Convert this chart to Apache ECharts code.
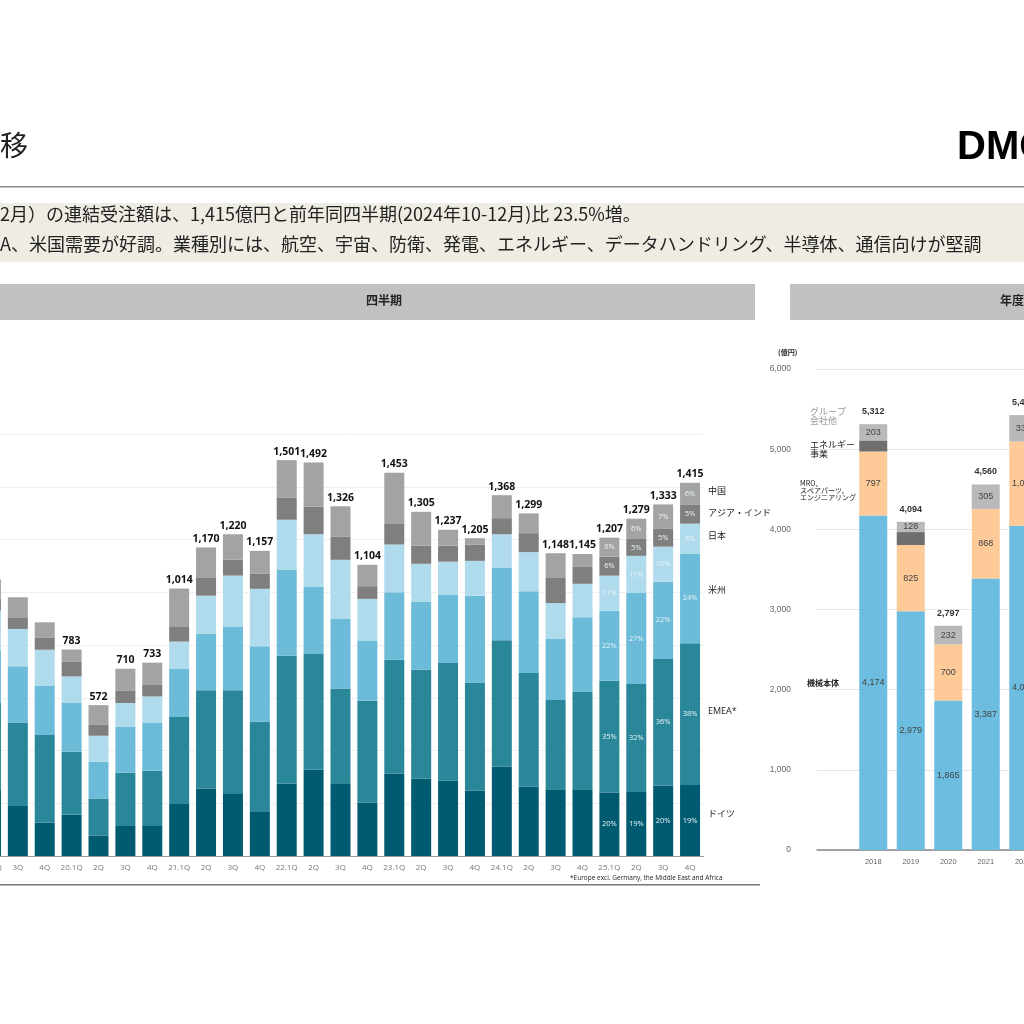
<!DOCTYPE html>
<html><head><meta charset="utf-8">
<script src="https://cdn.jsdelivr.net/npm/echarts@6/dist/echarts.min.js"></script>
<style>body{margin:0;background:#fff}#c{width:1024px;height:1024px}</style>
</head><body><div id="c"></div>
<script>
// quarterly orders (億円), by region
var quarters = ['19.2Q','3Q','4Q','20.1Q','2Q','3Q','4Q','21.1Q','2Q','3Q','4Q','22.1Q','2Q','3Q','4Q','23.1Q','2Q','3Q','4Q','24.1Q','2Q','3Q','4Q','25.1Q','2Q','3Q','4Q'];
var germany = [250,190,127,156,78,114,114,200,256,235,170,275,327,276,203,313,294,285,247,339,263,253,253,241,243,267,269];
var emea    = [330,316,332,239,140,202,209,327,372,393,339,484,439,359,386,431,412,447,411,479,431,338,371,423,409,480,538];
var americas= [200,213,187,185,139,175,181,182,214,242,286,327,256,264,226,256,259,259,329,274,310,234,281,266,345,293,340];
var japan   = [150,142,136,101,99,89,101,104,145,193,218,189,198,224,160,181,143,125,132,128,148,134,127,133,141,133,113];
var asia    = [45,44,47,57,43,48,46,58,67,61,57,83,105,87,48,78,69,61,61,61,72,95,64,72,64,67,71];
var china   = [73,76,57,45,73,82,82,143,116,96,87,143,167,116,81,194,128,60,25,87,75,94,49,72,77,93,84];
var totals  = [null,null,null,783,572,710,733,1014,1170,1220,1157,1501,1492,1326,1104,1453,1305,1237,1205,1368,1299,1148,1145,1207,1279,1333,1415];
// share labels on the latest four quarters
var pctGermany = [20,19,20,19], pctEmea = [35,32,36,38], pctAmericas = [22,27,22,24];
var pctJapan = [11,11,10,8], pctAsia = [6,5,5,5], pctChina = [6,6,7,6];

// annual orders
var years = ['','2018','2019','2020','2021','2022'];
var machines = [null,4174,2979,1865,3387,4045];
var mro      = [null,797,825,700,868,1050];
var energy   = [null,138,162,0,0,0];
var group    = [null,203,128,232,305,330];
var yearTotals = [null,5312,4094,2797,4560,5425];

var qColors = ['#005b70','#2a8699','#6cbcd9','#b0dbed','#7f7f7f','#a3a3a3'];
var qNames = ['ドイツ','EMEA*','米州','日本','アジア・インド','中国'];
var qData = [germany,emea,americas,japan,asia,china];
var qPct = [pctGermany,pctEmea,pctAmericas,pctJapan,pctAsia,pctChina];
var n = quarters.length;

var series = [];
qData.forEach(function (d, k) {
  series.push({
    name: qNames[k], type: 'bar', stack: 'q', xAxisIndex: 0, yAxisIndex: 0,
    barWidth: 20, itemStyle: {color: qColors[k]}, data: d,
    label: {show: true, color: '#e8f4f8', fontSize: 7.5, fontFamily: 'Open Sans',
      formatter: function (p) { var i = p.dataIndex - (n - 4); return i >= 0 ? qPct[k][i] + '%' : ''; }}
  });
});
series.push({
  type: 'bar', stack: 'q', xAxisIndex: 0, yAxisIndex: 0, barWidth: 20,
  data: totals.map(function () { return 0; }),
  label: {show: true, position: 'top', distance: 3, color: '#111', fontWeight: 'bold', fontSize: 10.5, fontFamily: 'Open Sans',
    formatter: function (p) { var t = totals[p.dataIndex]; return t ? t.toLocaleString('en-US') : ''; }}
});
var yColors = ['#6cbde0','#fdca98','#6f6f6f','#b9b9b9'];
[machines, mro, energy, group].forEach(function (d, k) {
  series.push({
    type: 'bar', stack: 'y', xAxisIndex: 1, yAxisIndex: 1, barWidth: 28,
    itemStyle: {color: yColors[k]}, data: d,
    label: {show: k !== 2, color: '#444', fontSize: 9, fontFamily: 'Arial',
      formatter: function (p) { return p.value ? p.value.toLocaleString('en-US') : ''; }}
  });
});
series.push({
  type: 'bar', stack: 'y', xAxisIndex: 1, yAxisIndex: 1, barWidth: 28,
  data: yearTotals.map(function () { return 0; }),
  label: {show: true, position: 'top', distance: 8, color: '#333', fontWeight: 'bold', fontSize: 9, fontFamily: 'Arial',
    formatter: function (p) { var t = yearTotals[p.dataIndex]; return t ? t.toLocaleString('en-US') : ''; }}
});

var t = function (x, y, s, st) {
  return {type: 'text', left: x, top: y, style: Object.assign({text: s, fill: '#222', font: '9px "Noto Sans CJK JP"'}, st || {})};
};
var chart = echarts.init(document.getElementById('c'));
chart.setOption({
  animation: false,
  grid: [
    {left: -22.5, right: 320.5, top: 434, bottom: 168, outerBoundsMode: 'none', containLabel: false},
    {left: 817, right: -18, top: 369, bottom: 174, outerBoundsMode: 'none', containLabel: false}
  ],
  xAxis: [
    {gridIndex: 0, type: 'category', data: quarters,
     axisLine: {lineStyle: {color: '#999'}}, axisTick: {show: false},
     axisLabel: {interval: 0, color: '#777', fontSize: 8, margin: 8, fontFamily: 'Open Sans'}},
    {gridIndex: 1, type: 'category', data: years,
     axisLine: {lineStyle: {color: '#888', width: 1.5}}, axisTick: {show: false},
     axisLabel: {interval: 0, color: '#666', fontSize: 7.5, margin: 8, fontFamily: 'Arial'}}
  ],
  yAxis: [
    {gridIndex: 0, type: 'value', min: 0, max: 1600, interval: 200,
     axisLabel: {show: false}, splitLine: {lineStyle: {color: '#f0f0f0'}}},
    {gridIndex: 1, type: 'value', min: 0, max: 6000, interval: 1000,
     axisLabel: {color: '#666', fontSize: 8.5, margin: 26, fontFamily: 'Arial'},
     splitLine: {lineStyle: {color: '#e6e6e6'}}}
  ],
  series: series,
  graphic: [
    t(0, 131, '移', {font: '28px "Noto Sans CJK JP"'}),
    t(957, 128, 'DMG', {font: '900 40px "Liberation Sans"', fill: '#000'}),
    {type: 'rect', shape: {x: 0, y: 186, width: 1024, height: 1.5}, style: {fill: '#888'}},
    {type: 'rect', shape: {x: 0, y: 203, width: 1024, height: 59}, style: {fill: '#efece3'}},
    t(0, 205, '2月）の連結受注額は、1,415億円と前年同四半期(2024年10-12月)比 23.5%増。', {font: '18px "Noto Sans CJK JP"'}),
    t(0, 235, 'A、米国需要が好調。業種別には、航空、宇宙、防衛、発電、エネルギー、データハンドリング、半導体、通信向けが堅調', {font: '18px "Noto Sans CJK JP"'}),
    {type: 'rect', shape: {x: 0, y: 284, width: 755, height: 36}, style: {fill: '#c1c1c1'}},
    {type: 'rect', shape: {x: 790, y: 284, width: 240, height: 36}, style: {fill: '#c1c1c1'}},
    t(366, 294, '四半期', {font: 'bold 12px "Noto Sans CJK JP"'}),
    t(1000, 294, '年度', {font: 'bold 12px "Noto Sans CJK JP"'}),
    t(708, 486, '中国'), t(708, 508, 'アジア・インド'), t(708, 531, '日本'),
    t(708, 585, '米州'), t(708, 707, 'EMEA*', {font: '9px "Open Sans"'}), t(708, 809, 'ドイツ'),
    t(570, 875, '*Europe excl. Germany, the Middle East and Africa', {font: '6.5px "Open Sans"'}),
    {type: 'rect', shape: {x: 0, y: 884, width: 760, height: 1.5}, style: {fill: '#777'}},
    t(778, 349, '(億円)', {font: 'bold 7px "Noto Sans CJK JP"'}),
    t(810, 407, 'グループ\n会社他', {fill: '#999', font: '9px "Noto Sans CJK JP"'}),
    t(810, 440, 'エネルギー\n事業', {font: '9px "Noto Sans CJK JP"'}),
    t(800, 480, 'MRO、\nスペアパーツ、\nエンジニアリング', {font: '7px "Noto Sans CJK JP"'}),
    t(807, 679, '機械本体', {font: 'bold 8px "Noto Sans CJK JP"'})
  ]
});
</script></body></html>
